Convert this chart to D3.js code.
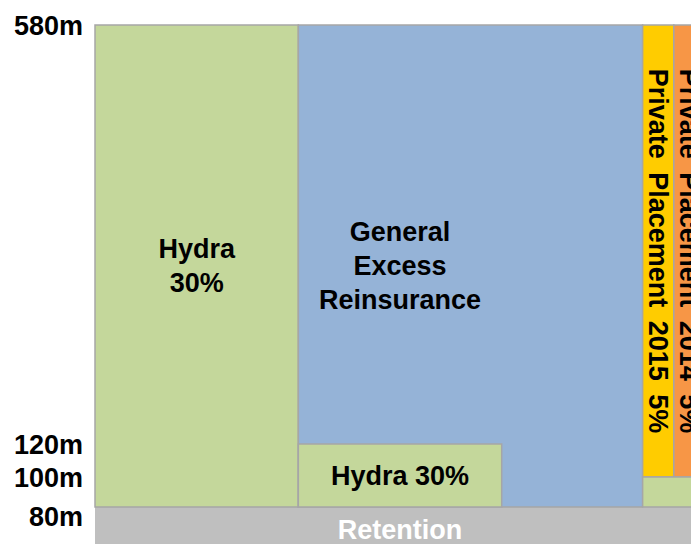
<!DOCTYPE html>
<html>
<head>
<meta charset="utf-8">
<script src="https://cdn.jsdelivr.net/npm/d3@7"></script>
<style>
    body { margin: 0; background: #fff; }
    svg { display: block; font-family: 'Liberation Sans', Arial, sans-serif; font-weight: bold; }
</style>
</head>
<body>
<svg id="tower" width="691" height="544"></svg>
<script>
// attachment points on the left axis (in m)
var tickValues = [580, 120, 100, 80];
var tickLabels = ['580m', '120m', '100m', '80m'];

// layers of the programme: share of the layer (in %) and attachment/exhaustion (in m)
var layerNames = ['Retention', 'Hydra', 'General Excess', 'Hydra lower', 'PP 2015', 'PP 2014', 'Hydra right'];
var layerLabels = ['Retention', 'Hydra\n30%', 'General\nExcess\nReinsurance', 'Hydra 30%',
    'Private Placement 2015 5%', 'Private Placement 2014 5%', ''];
var shareStart = [0, 0, 30, 30, 80.8, 85.4, 80.8];
var shareEnd = [90, 30, 80.8, 60, 85.4, 90, 90];
var layerBottom = [50, 80, 80, 80, 100, 100, 80];
var layerTop = [80, 580, 580, 120, 580, 580, 100];
// where the label sits across the share axis (blue label sits over the open 30-60 band)
var labelShare = [45, 15, 45, 45, 83.1, 87.7, 85.4];

var fills = ['#bfbfbf', '#c4d79b', '#95b3d7', '#c4d79b', '#ffcc00', '#f79646', '#c4d79b'];
var textColors = ['#ffffff', '#000', '#000', '#000', '#000', '#000', '#000'];
var vertical = [false, false, false, false, true, true, false];

var svg = d3.select('#tower');
var fontSize = 27;
var lineHeight = 34;

var x = d3.scaleLinear()
    .domain([0, 90])
    .range([95, 705]);

// the diagram is not drawn to one scale: each band has its own stretch
var y = d3.scaleLinear()
    .domain([80, 100, 120, 580])
    .range([507, 477, 444, 25]);

var layers = layerNames.map(function(name, i) {
    return {
        name: name,
        label: layerLabels[i],
        x0: shareStart[i],
        x1: shareEnd[i],
        y0: layerBottom[i],
        y1: layerTop[i],
        lx: labelShare[i],
        fill: fills[i],
        color: textColors[i],
        vertical: vertical[i],
    };
});

svg.append('g')
    .selectAll('rect')
    .data(layers)
    .enter()
    .append('rect')
    .attr('x', function(d) { return x(d.x0); })
    .attr('y', function(d) { return y(d.y1); })
    .attr('width', function(d) { return x(d.x1) - x(d.x0); })
    .attr('height', function(d) { return y(d.y0) - y(d.y1); })
    .attr('fill', function(d) { return d.fill; })
    .attr('stroke', function(d) { return d.name === 'Retention' ? 'none' : '#a6a6a6'; })
    .attr('stroke-width', 1.5);

var labels = svg.append('g')
    .selectAll('text')
    .data(layers.filter(function(d) { return d.label; }))
    .enter()
    .append('text')
    .attr('fill', function(d) { return d.color; })
    .attr('font-size', fontSize)
    .attr('text-anchor', 'middle');

labels.each(function(d) {
    var t = d3.select(this);
    var cx = x(d.lx);
    var cy = (y(d.y0) + y(d.y1)) / 2;
    if (d.vertical) {
        t.attr('transform', 'translate(' + cx + ',' + cy + ') rotate(90)')
            .attr('dy', '0.35em')
            .attr('word-spacing', 6)
            .text(d.label);
        return;
    }
    var lines = d.label.split('\n');
    var firstBaseline = cy - (lines.length - 1) * lineHeight / 2 + fontSize * 0.35;
    lines.forEach(function(line, i) {
        t.append('tspan')
            .attr('x', cx)
            .attr('y', firstBaseline + i * lineHeight)
            .text(line);
    });
});

// left axis labels
svg.append('g')
    .selectAll('text')
    .data(tickValues)
    .enter()
    .append('text')
    .attr('x', 83)
    .attr('y', function(d) { return y(d); })
    .attr('dy', function(d) { return d === 80 ? 18.5 : 9.5; })
    .attr('text-anchor', 'end')
    .attr('font-size', fontSize)
    .attr('fill', '#000')
    .text(function(d, i) { return tickLabels[i]; });
</script>
</body>
</html>
